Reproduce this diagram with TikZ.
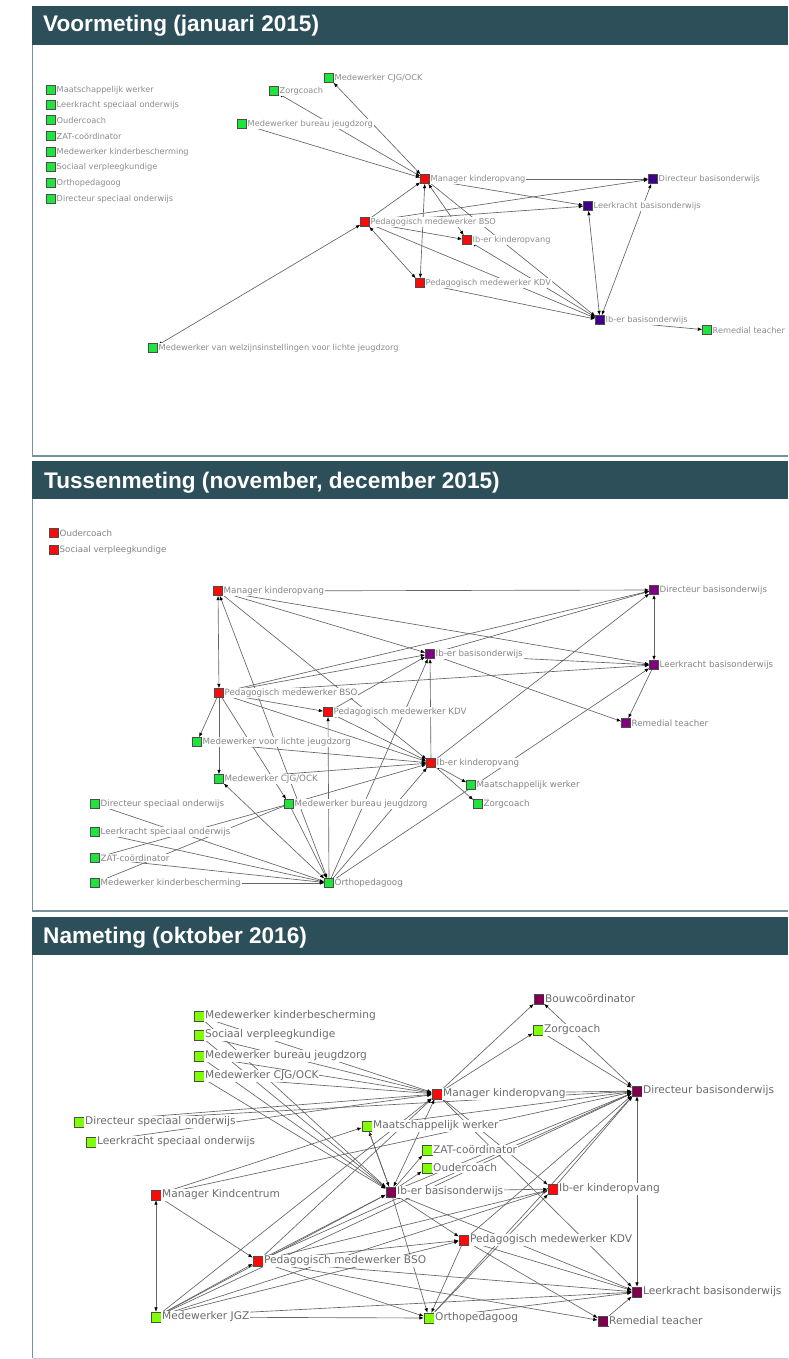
\documentclass[tikz,border=0pt]{standalone}
\usepackage{fontspec}
\setmainfont{DejaVu Sans}
\newfontfamily\titlefont{Liberation Sans}
\usetikzlibrary{arrows.meta}
\pgfdeclarelayer{bg}
\pgfdeclarelayer{edges}
\pgfsetlayers{bg,edges,main}
\definecolor{barcol}{RGB}{44,79,90}
\definecolor{framecol}{RGB}{120,145,158}
\definecolor{gA}{RGB}{30,228,60}
\definecolor{rA}{RGB}{250,10,10}
\definecolor{pA}{RGB}{64,0,140}
\definecolor{pB}{RGB}{128,0,128}
\definecolor{pC}{RGB}{128,0,80}
\definecolor{gC}{RGB}{128,255,0}
\definecolor{edgecol}{RGB}{100,100,100}
\begin{document}
\begin{tikzpicture}[x=1pt,y=-1pt,
  sqbase/.style={rectangle,inner sep=0pt,draw=black!70,line width=0.4pt},
  labA/.style={font=\fontsize{8.2}{9}\selectfont,text=black!45,fill=white,inner sep=0.8pt},
  labB/.style={font=\fontsize{8.7}{10}\selectfont,text=black!48,fill=white,inner sep=0.8pt},
  labC/.style={font=\fontsize{10.6}{12}\selectfont,text=black!58,fill=white,inner sep=0.8pt},
  nA/.style={sqbase,minimum size=9pt,label={[labA]right:#1}},
  nB/.style={sqbase,minimum size=9pt,label={[labB]right:#1}},
  nC/.style={sqbase,minimum size=10pt,label={[labC]right:#1}},
  e/.style={draw=edgecol,line width=0.65pt,-{Latex[length=4.5pt,width=3.5pt,color=black]}},
  ee/.style={draw=edgecol,line width=0.65pt,{Latex[length=4.5pt,width=3.5pt,color=black]}-{Latex[length=4.5pt,width=3.5pt,color=black]}},
  ttl/.style={anchor=base west,text=white,font=\titlefont\bfseries\fontsize{22.6}{26}\selectfont,inner sep=0pt}
]
\useasboundingbox (0,0) rectangle (788,1359);
\begin{pgfonlayer}{bg}
\fill[white] (0,0) rectangle (788,1359);
\end{pgfonlayer}

% ---------- frames and title bars ----------
\fill[barcol] (32,6) rectangle (788,45);
\fill[barcol] (32,461) rectangle (788,499);
\fill[barcol] (32,917) rectangle (788,955);
\draw[framecol,line width=1.2pt] (32.6,45) -- (32.6,456) -- (788,456);
\draw[framecol,line width=1.2pt] (32.6,499) -- (32.6,911) -- (788,911);
\draw[framecol,line width=1.2pt] (32.6,955) -- (32.6,1358.4);
\draw[black!20,line width=1pt] (32.6,1358.4) -- (788,1358.4);
\node[ttl] (t1) at (43,32) {Voormeting (januari 2015)};
\node[ttl] (t2) at (44,488) {Tussenmeting (november, december 2015)};
\node[ttl] (t3) at (43,943) {Nameting (oktober 2016)};

% ---------- panel 1 ----------
\node[nA=Maatschappelijk werker,fill=gA] (a1) at (51,90) {};
\node[nA=Leerkracht speciaal onderwijs,fill=gA] (a2) at (51,105) {};
\node[nA=Oudercoach,fill=gA] (a3) at (51,120) {};
\node[nA=ZAT-coördinator,fill=gA] (a4) at (51,136) {};
\node[nA=Medewerker kinderbescherming,fill=gA] (a5) at (51,152) {};
\node[nA=Sociaal verpleegkundige,fill=gA] (a6) at (51,167) {};
\node[nA=Orthopedagoog,fill=gA] (a7) at (51,183) {};
\node[nA=Directeur speciaal onderwijs,fill=gA] (a8) at (51,199) {};
\node[nA=Zorgcoach,fill=gA] (azorg) at (274,91) {};
\node[nA=Medewerker CJG/OCK,fill=gA] (acjg) at (329,78) {};
\node[nA=Medewerker bureau jeugdzorg,fill=gA] (abj) at (242,124) {};
\node[nA=Manager kinderopvang,fill=rA] (am) at (425,179) {};
\node[nA=Pedagogisch medewerker BSO,fill=rA] (abso) at (365,222) {};
\node[nA=Directeur basisonderwijs,fill=pA] (ad) at (653,179) {};
\node[nA=Leerkracht basisonderwijs,fill=pA] (al) at (588,206) {};
\node[nA=Ib-er kinderopvang,fill=rA] (aik) at (467,240) {};
\node[nA=Pedagogisch medewerker KDV,fill=rA] (akdv) at (420,283) {};
\node[nA=Ib-er basisonderwijs,fill=pA] (aib) at (600,320) {};
\node[nA=Remedial teacher,fill=gA] (arem) at (707,330) {};
\node[nA=Medewerker van welzijnsinstellingen voor lichte jeugdzorg,fill=gA] (awelz) at (153,348) {};

% ---------- panel 2 ----------
\node[nB=Oudercoach,fill=rA] (boud) at (54,533) {};
\node[nB=Sociaal verpleegkundige,fill=rA] (bsv) at (54,550) {};
\node[nB=Manager kinderopvang,fill=rA] (bm) at (218,591) {};
\node[nB=Directeur basisonderwijs,fill=pB] (bd) at (654,590) {};
\node[nB=Ib-er basisonderwijs,fill=pB] (bib) at (430,654) {};
\node[nB=Leerkracht basisonderwijs,fill=pB] (bl) at (654,665) {};
\node[nB=Pedagogisch medewerker BSO,fill=rA] (bbso) at (219,693) {};
\node[nB=Pedagogisch medewerker KDV,fill=rA] (bkdv) at (328,712) {};
\node[nB=Medewerker voor lichte jeugdzorg,fill=gA] (blj) at (197,742) {};
\node[nB=Medewerker CJG/OCK,fill=gA] (bcjg) at (219,779) {};
\node[nB=Directeur speciaal onderwijs,fill=gA] (bdso) at (95,804) {};
\node[nB=Medewerker bureau jeugdzorg,fill=gA] (bbj) at (289,804) {};
\node[nB=Leerkracht speciaal onderwijs,fill=gA] (blso) at (95,832) {};
\node[nB=ZAT-coördinator,fill=gA] (bzat) at (95,858) {};
\node[nB=Medewerker kinderbescherming,fill=gA] (bkb) at (95,883) {};
\node[nB=Orthopedagoog,fill=gA] (bortho) at (329,883) {};
\node[nB=Ib-er kinderopvang,fill=rA] (bik) at (431,763) {};
\node[nB=Maatschappelijk werker,fill=gA] (bmw) at (471,785) {};
\node[nB=Zorgcoach,fill=gA] (bzorg) at (478,804) {};
\node[nB=Remedial teacher,fill=pB] (brem) at (626,723) {};

% ---------- panel 3 ----------
\node[nC=Medewerker kinderbescherming,fill=gC] (ckb) at (199,1016) {};
\node[nC=Sociaal verpleegkundige,fill=gC] (csv) at (199,1035) {};
\node[nC=Medewerker bureau jeugdzorg,fill=gC] (cbj) at (199,1056) {};
\node[nC=Medewerker CJG/OCK,fill=gC] (ccjg) at (199,1076) {};
\node[nC=Directeur speciaal onderwijs,fill=gC] (cdso) at (79,1122) {};
\node[nC=Leerkracht speciaal onderwijs,fill=gC] (clso) at (91,1142) {};
\node[nC=Maatschappelijk werker,fill=gC] (cmw) at (367,1126) {};
\node[nC=Bouwcoördinator,fill=pC] (cbouw) at (539,999) {};
\node[nC=Zorgcoach,fill=gC] (czorg) at (538,1030) {};
\node[nC=Manager kinderopvang,fill=rA] (cm) at (437,1094) {};
\node[nC=Directeur basisonderwijs,fill=pC] (cd) at (637,1091) {};
\node[nC=Manager Kindcentrum,fill=rA] (cmk) at (156,1195) {};
\node[nC=Ib-er basisonderwijs,fill=pC] (cib) at (391,1192) {};
\node[nC=Pedagogisch medewerker BSO,fill=rA] (cbso) at (258,1261) {};
\node[nC=Medewerker JGZ,fill=gC] (cjgz) at (156,1317) {};
\node[nC=ZAT-coördinator,fill=gC] (czat) at (427,1150) {};
\node[nC=Oudercoach,fill=gC] (coud) at (427,1168) {};
\node[nC=Ib-er kinderopvang,fill=rA] (cik) at (553,1189) {};
\node[nC=Pedagogisch medewerker KDV,fill=rA] (ckdv) at (464,1240) {};
\node[nC=Leerkracht basisonderwijs,fill=pC] (clbo) at (637,1292) {};
\node[nC=Orthopedagoog,fill=gC] (cortho) at (429,1318) {};
\node[nC=Remedial teacher,fill=pC] (crem) at (603,1321) {};

% ---------- edges ----------
\begin{pgfonlayer}{edges}
% panel 1
\foreach \s/\t in {abj/am,am/ad,am/al,abso/ad,abso/al,abso/am,am/aib,abso/aik,abso/aib,akdv/aib,aib/arem}
  \draw[e] (\s) -- (\t);
\foreach \s/\t in {azorg/am,acjg/am,am/akdv,am/aik,abso/akdv,aik/aib,al/aib,ad/aib,awelz/abso}
  \draw[ee] (\s) -- (\t);
% panel 2
\foreach \s/\t in {bm/bd,bm/bib,bm/bik,bbso/bcjg,bbso/blj,bbso/bkdv,bbso/bib,bbso/bd,bbso/bl,bbso/bbj,
  blj/bik,bcjg/bik,bik/bib,bik/bzorg,bik/bd,bib/bd,bib/bl,bl/brem,bortho/bl,bortho/bik,bortho/bib,
  bortho/bkdv,bbj/bortho,bortho/bdso,bzat/bortho,bkb/bortho,bbj/bzat,bbj/bkb,bkdv/bib}
  \draw[e] (\s) -- (\t);
\foreach \s/\t in {bm/bbso,bm/bl,bbso/bik,bbj/bik,bkdv/bik,bik/bmw,bib/brem,bd/bl,bcjg/bortho,blso/bortho,bm/bortho}
  \draw[ee] (\s) -- (\t);
% panel 3
\foreach \s/\t in {ckb/cib,csv/cib,cbj/cib,ccjg/cib,cdso/cm,cdso/cd,clso/cm,cmk/cbso,cmk/cmw,cmk/cd,
  cjgz/cm,cjgz/cib,cjgz/cbso,cjgz/ckdv,cjgz/cik,cjgz/cd,cjgz/clbo,cjgz/cortho,
  cbso/ckdv,cbso/cik,cbso/cortho,cbso/clbo,cbso/cd,cbso/cm,cbso/crem,
  cm/cbouw,cm/czorg,cm/clbo,cm/cik,czorg/cd,cmw/cd,cib/cmw,cib/czat,cib/coud,cib/cik,cib/cortho,cib/clbo,cib/cd,
  cik/cd,cortho/cik,ckdv/clbo,ckdv/crem,ckdv/cortho,ckdv/cd,cortho/clbo,cortho/cd,crem/clbo,cmw/cib}
  \draw[e] (\s) -- (\t);
\foreach \s/\t in {ckb/cm,csv/cm,cbj/cm,ccjg/cm,cmk/cjgz,cbso/cib,cm/cd,cm/cib,cbouw/cd,cib/ckdv,cd/clbo}
  \draw[ee] (\s) -- (\t);
\end{pgfonlayer}
\end{tikzpicture}
\end{document}
